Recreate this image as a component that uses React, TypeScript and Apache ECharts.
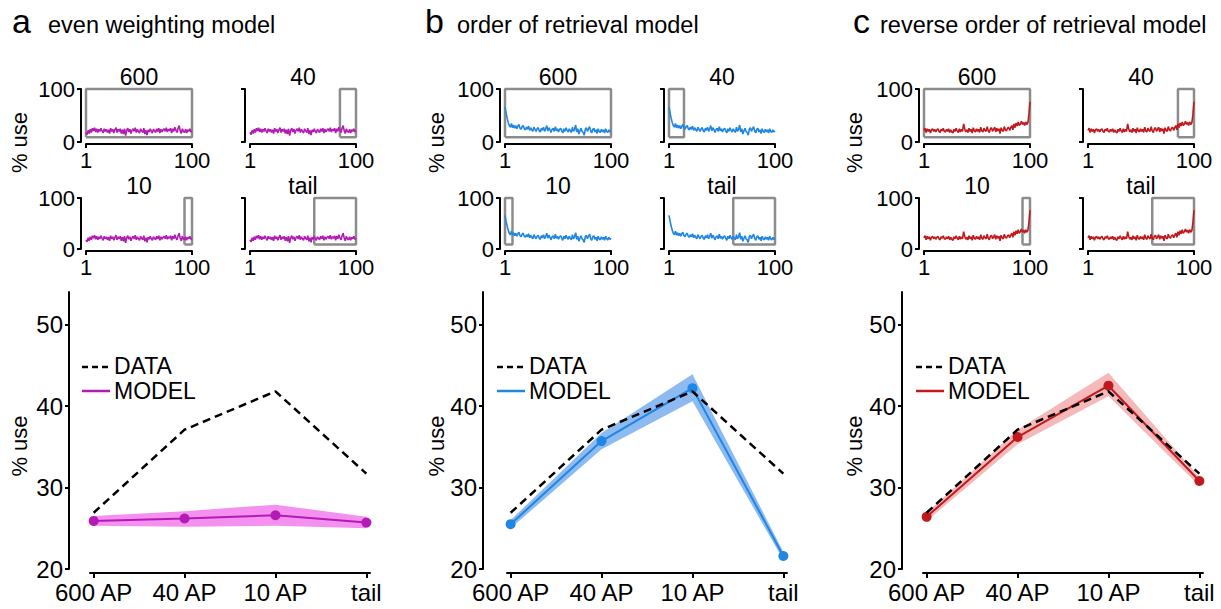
import React, { useEffect, useRef } from 'react';
import * as echarts from 'echarts';

const FONT = '"Liberation Sans", Arial, Helvetica, sans-serif';

// ---------- bottom summary charts ----------
const categories = ['600 AP', '40 AP', '10 AP', 'tail'];
const dataUse = [26.9, 37.1, 41.8, 31.7];

const evenModel = [25.9, 26.2, 26.6, 25.7];
const evenLow = [25.3, 25.2, 25.3, 25.0];
const evenHigh = [26.5, 27.1, 27.9, 26.4];

const orderModel = [25.5, 35.7, 42.2, 21.6];
const orderLow = [25.0, 34.7, 40.6, 21.1];
const orderHigh = [26.0, 36.7, 43.9, 22.1];

const reverseModel = [26.4, 36.2, 42.5, 30.8];
const reverseLow = [25.9, 35.3, 41.2, 30.2];
const reverseHigh = [26.9, 37.1, 44.1, 31.3];

const bottomYTicks = [20, 30, 40, 50];
const bottomXTicks = [0, 1, 2, 3];

// ---------- small inset charts ----------
const smallTitles = ['600', '40', '10', 'tail'];
const smallXTicks = [1, 100];
const smallYTicks = [0, 100];

const evenBoxes = [[1, 100], [85, 100], [93, 100], [61, 100]];
const orderBoxes = [[1, 100], [1, 15], [1, 8], [61, 100]];
const reverseBoxes = [[1, 100], [85, 100], [93, 100], [61, 100]];
const boxBottom = 9;
const boxTop = 100;

const evenCurve = [
  18, 14, 22, 16, 24, 18, 26, 21, 27, 19,
  25, 18, 24, 20, 26, 21, 17, 25, 20, 24,
  18, 23, 16, 26, 20, 24, 17, 23, 27, 18,
  24, 20, 25, 16, 23, 15, 25, 12, 22, 26,
  19, 24, 16, 22, 25, 20, 27, 18, 24, 20,
  17, 25, 21, 18, 26, 15, 22, 13, 23, 19,
  25, 20, 17, 24, 21, 18, 25, 20, 26, 17,
  24, 19, 23, 25, 20, 27, 19, 24, 21, 26,
  17, 25, 20, 28, 22, 18, 26, 31, 21, 16,
  25, 20, 18, 24, 17, 23, 20, 25, 19, 21,
];

const orderCurve = [
  66, 55, 45, 37, 31, 28, 35, 27, 32, 26,
  31, 25, 30, 33, 26, 24, 29, 31, 25, 23,
  28, 24, 30, 22, 27, 23, 20, 28, 24, 20,
  25, 27, 21, 19, 26, 22, 28, 20, 25, 31,
  21, 27, 23, 18, 24, 26, 20, 29, 21, 25,
  19, 24, 26, 21, 17, 25, 20, 27, 22, 19,
  25, 21, 18, 28, 20, 24, 32, 19, 25, 15,
  21, 26, 20, 18, 13, 24, 27, 20, 25, 29,
  21, 17, 24, 26, 19, 23, 16, 25, 20, 18,
  24, 19, 23, 17, 25, 20, 18, 23, 19, 21,
];

const reverseCurve = [
  22, 26, 18, 25, 20, 24, 17, 23, 25, 20,
  24, 19, 23, 25, 20, 18, 24, 21, 26, 20,
  19, 24, 20, 25, 18, 23, 19, 17, 24, 20,
  26, 21, 18, 25, 19, 24, 20, 34, 25, 19,
  23, 18, 26, 20, 24, 17, 27, 21, 19, 25,
  20, 24, 18, 28, 21, 19, 26, 22, 20, 29,
  21, 18, 25, 27, 20, 24, 28, 19, 26, 21,
  25, 16, 27, 22, 20, 29, 23, 21, 26, 28,
  22, 27, 31, 23, 34, 27, 36, 30, 38, 31,
  34, 39, 33, 37, 31, 38, 33, 36, 52, 76,
];

const panels = [
  {
    letter: 'a', title: 'even weighting model', curve: evenCurve, boxes: evenBoxes,
    model: evenModel, low: evenLow, high: evenHigh, color: '#b41ab4', band: '#f490ef',
  },
  {
    letter: 'b', title: 'order of retrieval model', curve: orderCurve, boxes: orderBoxes,
    model: orderModel, low: orderLow, high: orderHigh, color: '#1f86e4', band: '#8dbaf0',
  },
  {
    letter: 'c', title: 'reverse order of retrieval model', curve: reverseCurve, boxes: reverseBoxes,
    model: reverseModel, low: reverseLow, high: reverseHigh, color: '#c01a1f', band: '#f6b9b9',
  },
];

// layout (pixels)
const smallLeft = [86, 505, 924];
const smallColStep = 164;
const smallWidth = 106;
const smallRowTop = [89, 198];
const smallRowHeight = [53, 51];
const bigLeft = [90, 507, 923];
const bigYOffset = [21, 24, 21];
const bigTop = 292;
const bigWidth = 280;
const bigHeight = 277;
const letterX = [12, 425, 853];
const titleX = [48, 457, 880];
const yNameX = [19, 436, 854];
const legendX = [82, 497, 916];

function buildOption() {
  const grid: any[] = [];
  const xAxis: any[] = [];
  const yAxis: any[] = [];
  const series: any[] = [];
  const graphic: any[] = [];

  const axisLine = { show: true, onZero: false, lineStyle: { color: '#000', width: 2 } };
  const tickStyle = { color: '#000', width: 2 };

  panels.forEach((P, p) => {
    // headings
    graphic.push({
      type: 'text', x: letterX[p], y: 21,
      style: { text: P.letter, font: `34px ${FONT}`, fill: '#000', align: 'left', verticalAlign: 'middle' },
    });
    graphic.push({
      type: 'text', x: titleX[p], y: 25,
      style: { text: P.title, font: `23.5px ${FONT}`, fill: '#000', align: 'left', verticalAlign: 'middle' },
    });
    graphic.push({
      type: 'text', x: yNameX[p], y: 142.5, rotation: Math.PI / 2,
      style: { text: '% use', font: `22px ${FONT}`, fill: '#000', align: 'center', verticalAlign: 'middle' },
    });
    graphic.push({
      type: 'text', x: yNameX[p], y: 446, rotation: Math.PI / 2,
      style: { text: '% use', font: `22px ${FONT}`, fill: '#000', align: 'center', verticalAlign: 'middle' },
    });

    // small insets
    smallTitles.forEach((name, s) => {
      const col = s % 2;
      const row = Math.floor(s / 2);
      const left = smallLeft[p] + col * smallColStep;
      const top = smallRowTop[row];
      const height = smallRowHeight[row];
      const gi = grid.length;
      grid.push({ left, top, width: smallWidth, height, outerBoundsMode: 'none' });
      xAxis.push({
        gridIndex: gi, type: 'value', min: 1, max: 100, offset: 2,
        axisLine, splitLine: { show: false },
        axisTick: { show: true, customValues: smallXTicks, length: 4, lineStyle: tickStyle },
        axisLabel: { show: true, customValues: smallXTicks, fontSize: 22, fontFamily: FONT, color: '#000', margin: 5 },
      });
      yAxis.push({
        gridIndex: gi, type: 'value', min: 0, max: 100, offset: 5,
        axisLine, splitLine: { show: false },
        axisTick: { show: true, customValues: smallYTicks, length: 4, lineStyle: tickStyle },
        axisLabel: { show: col === 0, customValues: smallYTicks, fontSize: 22, fontFamily: FONT, color: '#000', margin: 6 },
      });
      const [b0, b1] = P.boxes[s];
      series.push({
        type: 'line', xAxisIndex: gi, yAxisIndex: gi, symbol: 'none', clip: false, silent: true,
        data: [[b0, boxBottom], [b1, boxBottom], [b1, boxTop], [b0, boxTop], [b0, boxBottom]],
        lineStyle: { color: '#8c8c8c', width: 2.5 },
        z: 3,
      });
      series.push({
        type: 'line', xAxisIndex: gi, yAxisIndex: gi, symbol: 'none', silent: true,
        data: P.curve.map((v, i) => [i + 1, v]),
        lineStyle: { color: P.color, width: 1.6 },
        z: 4,
      });
      graphic.push({
        type: 'text', x: left + smallWidth / 2, y: top - 12,
        style: { text: name, font: `23px ${FONT}`, fill: '#000', align: 'center', verticalAlign: 'middle' },
      });
    });

    // big summary chart
    const gi = grid.length;
    grid.push({ left: bigLeft[p], top: bigTop, width: bigWidth, height: bigHeight, outerBoundsMode: 'none' });
    xAxis.push({
      gridIndex: gi, type: 'value', min: -0.04, max: 3.04, offset: 4,
      axisLine, splitLine: { show: false },
      axisTick: { show: true, customValues: bottomXTicks, length: 5, lineStyle: tickStyle },
      axisLabel: {
        show: true, customValues: bottomXTicks, fontSize: 24, fontFamily: FONT, color: '#000', margin: 7,
        formatter: (v: number) => categories[Math.round(v)] ?? '',
      },
    });
    yAxis.push({
      gridIndex: gi, type: 'value', min: 20, max: 54, offset: bigYOffset[p],
      axisLine, splitLine: { show: false },
      axisTick: { show: true, customValues: bottomYTicks, length: 4, lineStyle: tickStyle },
      axisLabel: { show: true, customValues: bottomYTicks, fontSize: 24, fontFamily: FONT, color: '#000', margin: 6 },
    });
    const low = P.low;
    const high = P.high;
    const bandColor = P.band;
    series.push({
      type: 'custom', xAxisIndex: gi, yAxisIndex: gi, coordinateSystem: 'cartesian2d', silent: true,
      data: low.map((v, i) => [i, v, high[i]]),
      encode: { x: 0, y: [1, 2] },
      renderItem: (params: any, api: any) => {
        if (params.dataIndex !== 0) return null;
        const upper = high.map((v, i) => api.coord([i, v]));
        const lower = low.map((v, i) => api.coord([i, v])).reverse();
        return {
          type: 'polygon',
          shape: { points: upper.concat(lower) },
          style: { fill: bandColor, stroke: 'none' },
        };
      },
      z: 2,
    });
    series.push({
      name: 'MODEL', type: 'line', xAxisIndex: gi, yAxisIndex: gi,
      data: P.model.map((v, i) => [i, v]),
      symbol: 'circle', symbolSize: 10,
      lineStyle: { color: P.color, width: 2 },
      itemStyle: { color: P.color },
      z: 4,
    });
    series.push({
      name: 'DATA', type: 'line', xAxisIndex: gi, yAxisIndex: gi,
      data: dataUse.map((v, i) => [i, v]),
      symbol: 'none',
      lineStyle: { color: '#000', width: 2.5, type: [8, 5] },
      z: 5,
    });

    // legend
    const lx = legendX[p];
    graphic.push({
      type: 'line', shape: { x1: lx, y1: 367, x2: lx + 28, y2: 367 },
      style: { stroke: '#000', lineWidth: 2.5, lineDash: [6, 4] },
    });
    graphic.push({
      type: 'text', x: lx + 32, y: 366,
      style: { text: 'DATA', font: `23px ${FONT}`, fill: '#000', align: 'left', verticalAlign: 'middle' },
    });
    graphic.push({
      type: 'line', shape: { x1: lx, y1: 391, x2: lx + 28, y2: 391 },
      style: { stroke: P.color, lineWidth: 2.5 },
    });
    graphic.push({
      type: 'text', x: lx + 32, y: 391,
      style: { text: 'MODEL', font: `23px ${FONT}`, fill: '#000', align: 'left', verticalAlign: 'middle' },
    });
  });

  return {
    animation: false,
    backgroundColor: '#fff',
    textStyle: { fontFamily: FONT },
    grid, xAxis, yAxis, series, graphic,
  };
}

export default function App() {
  const ref = useRef<HTMLDivElement>(null);
  useEffect(() => {
    document.body.style.margin = '0';
    if (!ref.current) return;
    const chart = echarts.init(ref.current, undefined, { renderer: 'svg' });
    chart.setOption(buildOption() as any);
    return () => chart.dispose();
  }, []);
  return <div ref={ref} style={{ width: 1221, height: 609 }} />;
}
